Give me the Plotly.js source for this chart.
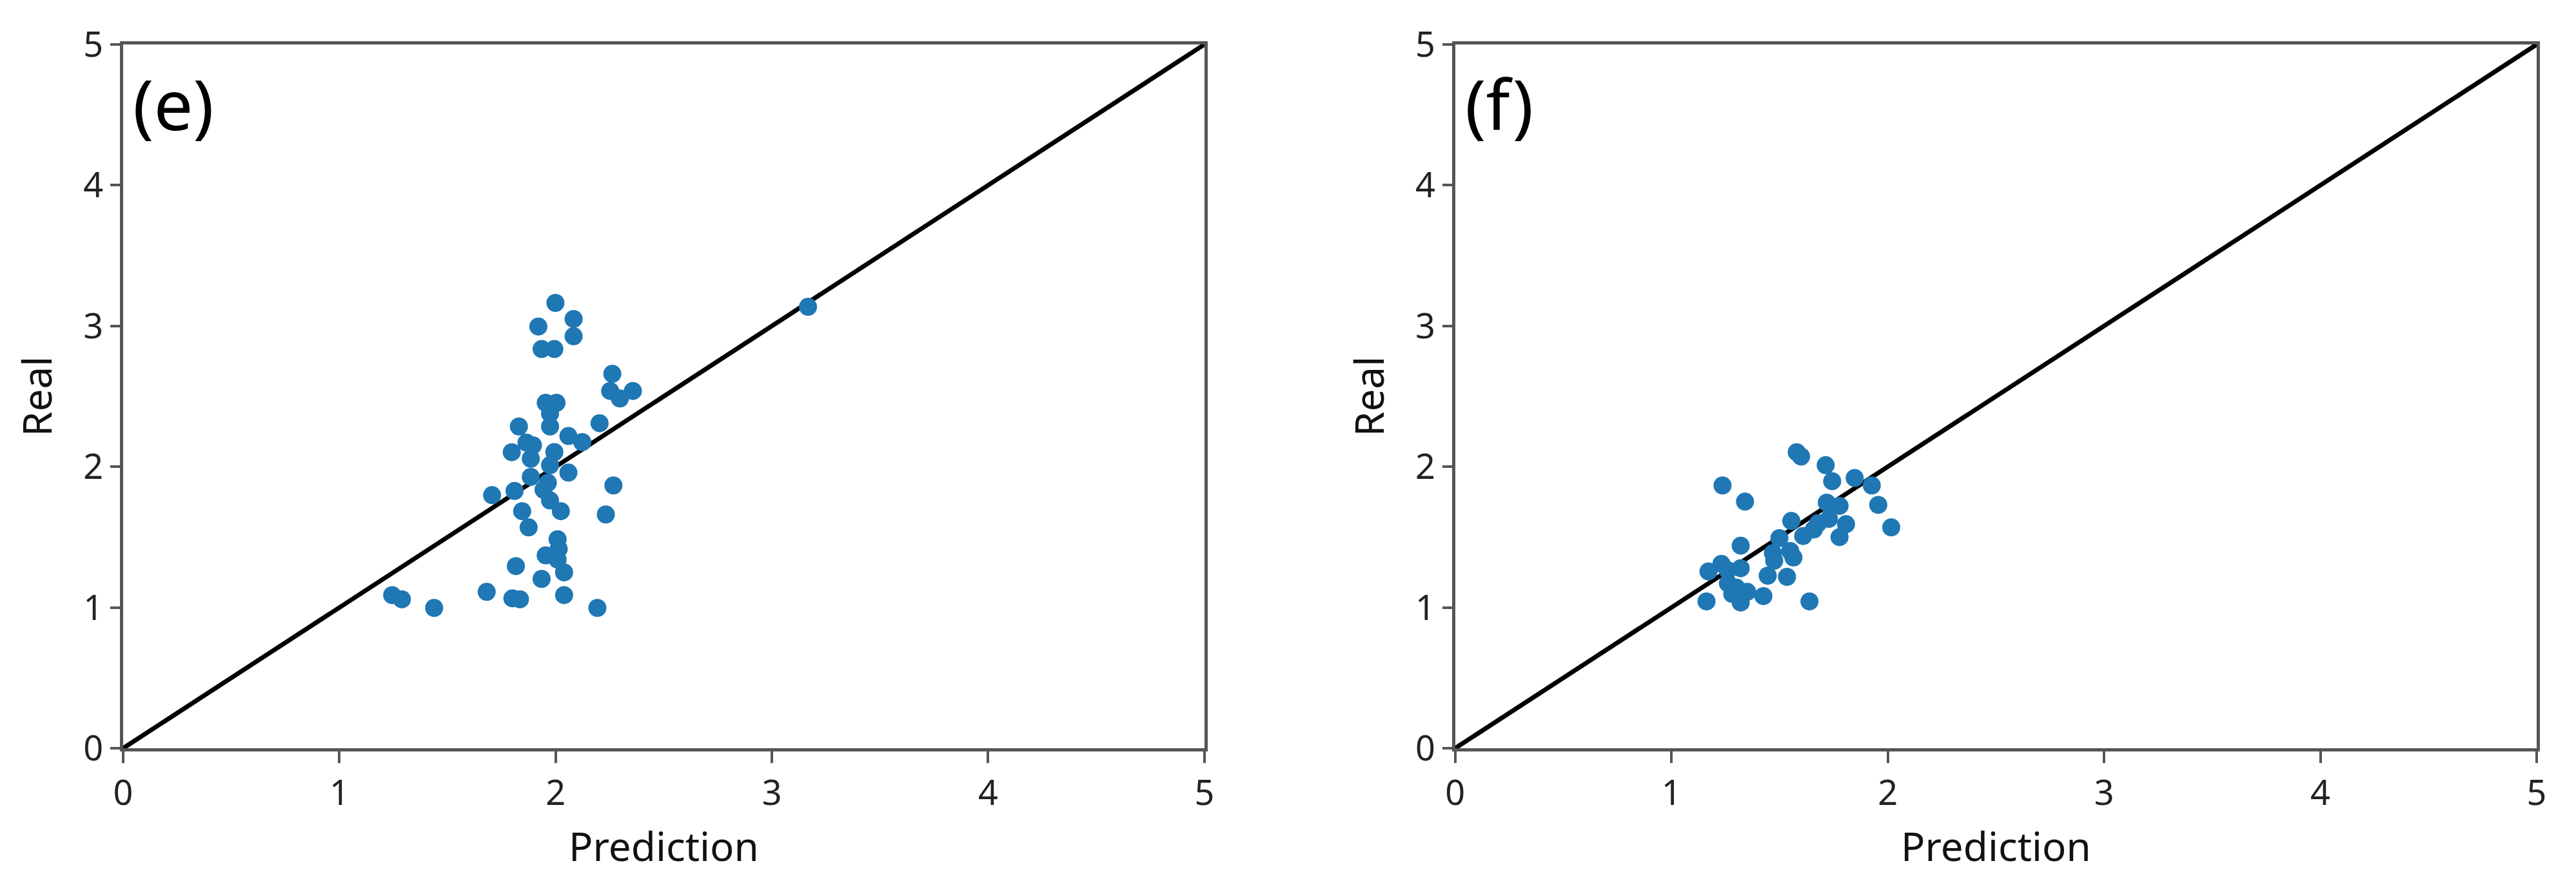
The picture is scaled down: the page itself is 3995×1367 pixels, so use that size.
<!DOCTYPE html>
<html>
<head>
<meta charset="utf-8">
<script src="https://cdn.plot.ly/plotly-3.0.1.min.js"></script>
<style>html,body{margin:0;padding:0;background:#fff;}#chart{width:3995px;height:1367px;}</style>
</head>
<body>
<div id="chart"></div>
<script>
// Panel (e): prediction vs real
const predE = [1.999, 2.083, 1.920, 2.083, 1.935, 1.994, 2.262, 2.252, 2.297, 2.357,
               1.954, 2.004, 1.974, 1.974, 1.830, 2.203, 2.059, 2.123, 1.865, 1.895,
               1.797, 1.885, 1.994, 1.974, 2.059, 1.885, 1.964, 1.944, 1.810, 1.706,
               1.974, 2.024, 1.845, 1.875, 2.267, 2.232, 2.009, 2.014, 1.954, 2.009,
               2.039, 1.816, 1.935, 2.039, 2.193, 1.681, 1.800, 1.835, 1.244, 1.289,
               1.438, 3.167];
const realE = [3.164, 3.050, 2.996, 2.927, 2.836, 2.836, 2.660, 2.538, 2.485, 2.538,
               2.454, 2.454, 2.378, 2.286, 2.286, 2.309, 2.218, 2.175, 2.171, 2.152,
               2.103, 2.057, 2.104, 2.011, 1.958, 1.928, 1.886, 1.836, 1.828, 1.798,
               1.760, 1.684, 1.684, 1.569, 1.867, 1.661, 1.485, 1.416, 1.370, 1.340,
               1.249, 1.294, 1.203, 1.088, 0.997, 1.111, 1.065, 1.058, 1.088, 1.058,
               0.997, 3.136];

// Panel (f): prediction vs real
const predF = [1.579, 1.599, 1.713, 1.743, 1.847, 1.926, 1.956, 2.016, 1.236, 1.340,
               1.718, 1.777, 1.554, 1.728, 1.807, 1.777, 1.658, 1.609, 1.499, 1.549,
               1.564, 1.469, 1.475, 1.320, 1.445, 1.534, 1.638, 1.425, 1.320, 1.162,
               1.171, 1.231, 1.261, 1.320, 1.261, 1.300, 1.350, 1.281, 1.678];
const realF = [2.103, 2.073, 2.011, 1.897, 1.920, 1.867, 1.729, 1.569, 1.867, 1.752,
               1.745, 1.722, 1.615, 1.630, 1.592, 1.500, 1.554, 1.508, 1.493, 1.401,
               1.355, 1.386, 1.332, 1.439, 1.226, 1.218, 1.043, 1.081, 1.035, 1.043,
               1.256, 1.310, 1.264, 1.279, 1.172, 1.141, 1.111, 1.096, 1.599];

const identity = [0, 5];
const tickVals = [0, 1, 2, 3, 4, 5];
const tickText = ['0', '1', '2', '3', '4', '5'];
const panelLabels = ['(e)', '(f)'];
const xTitle = 'Prediction';
const yTitle = 'Real';

const blue = '#1f77b4';
const marker = {color: blue, size: 28, line: {width: 0}};
const lineStyle = {color: '#000000', width: 7};

const traces = [
  {x: identity, y: identity, mode: 'lines', line: lineStyle, xaxis: 'x', yaxis: 'y', hoverinfo: 'skip'},
  {x: predE, y: realE, mode: 'markers', marker: marker, xaxis: 'x', yaxis: 'y'},
  {x: identity, y: identity, mode: 'lines', line: lineStyle, xaxis: 'x2', yaxis: 'y2', hoverinfo: 'skip'},
  {x: predF, y: realF, mode: 'markers', marker: marker, xaxis: 'x2', yaxis: 'y2'}
];

const fontFam = 'Noto Sans, DejaVu Sans, sans-serif';
function xax(domain, anchor) {
  return {
    domain: domain, anchor: anchor, range: [0, 5], autorange: false,
    tickvals: tickVals, ticktext: tickText, ticks: 'outside', ticklen: 18, tickwidth: 4, tickcolor: '#555',
    showline: true, mirror: true, linecolor: '#555', linewidth: 5,
    showgrid: false, zeroline: false, automargin: false,
    tickfont: {family: fontFam, size: 54, color: '#222'},
    title: {text: xTitle, font: {family: fontFam, size: 62, color: '#111'}, standoff: 30}
  };
}
function yax(anchor) {
  return {
    domain: [0, 1], anchor: anchor, range: [0, 5], autorange: false,
    tickvals: tickVals, ticktext: tickText, ticks: 'outside', ticklen: 15, tickwidth: 4, tickcolor: '#555',
    showline: true, mirror: true, linecolor: '#555', linewidth: 5,
    showgrid: false, zeroline: false, automargin: false,
    tickfont: {family: fontFam, size: 54, color: '#222'},
    title: {text: yTitle, font: {family: fontFam, size: 62, color: '#111'}, standoff: 30}
  };
}

const layout = {
  width: 3995, height: 1367,
  margin: {l: 191, r: 61, t: 69, b: 206},
  paper_bgcolor: '#ffffff', plot_bgcolor: '#ffffff',
  showlegend: false,
  xaxis: xax([0, 0.448], 'y'),
  yaxis: yax('x'),
  xaxis2: xax([0.5519, 1], 'y2'),
  yaxis2: yax('x2'),
  annotations: [
    {text: panelLabels[0], xref: 'x', yref: 'y', x: 0.04, y: 4.58, xanchor: 'left', yanchor: 'middle',
     showarrow: false, font: {family: fontFam, size: 108, color: '#000'}},
    {text: panelLabels[1], xref: 'x2', yref: 'y2', x: 0.04, y: 4.58, xanchor: 'left', yanchor: 'middle',
     showarrow: false, font: {family: fontFam, size: 108, color: '#000'}}
  ]
};

Plotly.newPlot('chart', traces, layout, {staticPlot: true, displayModeBar: false});
</script>
</body>
</html>
